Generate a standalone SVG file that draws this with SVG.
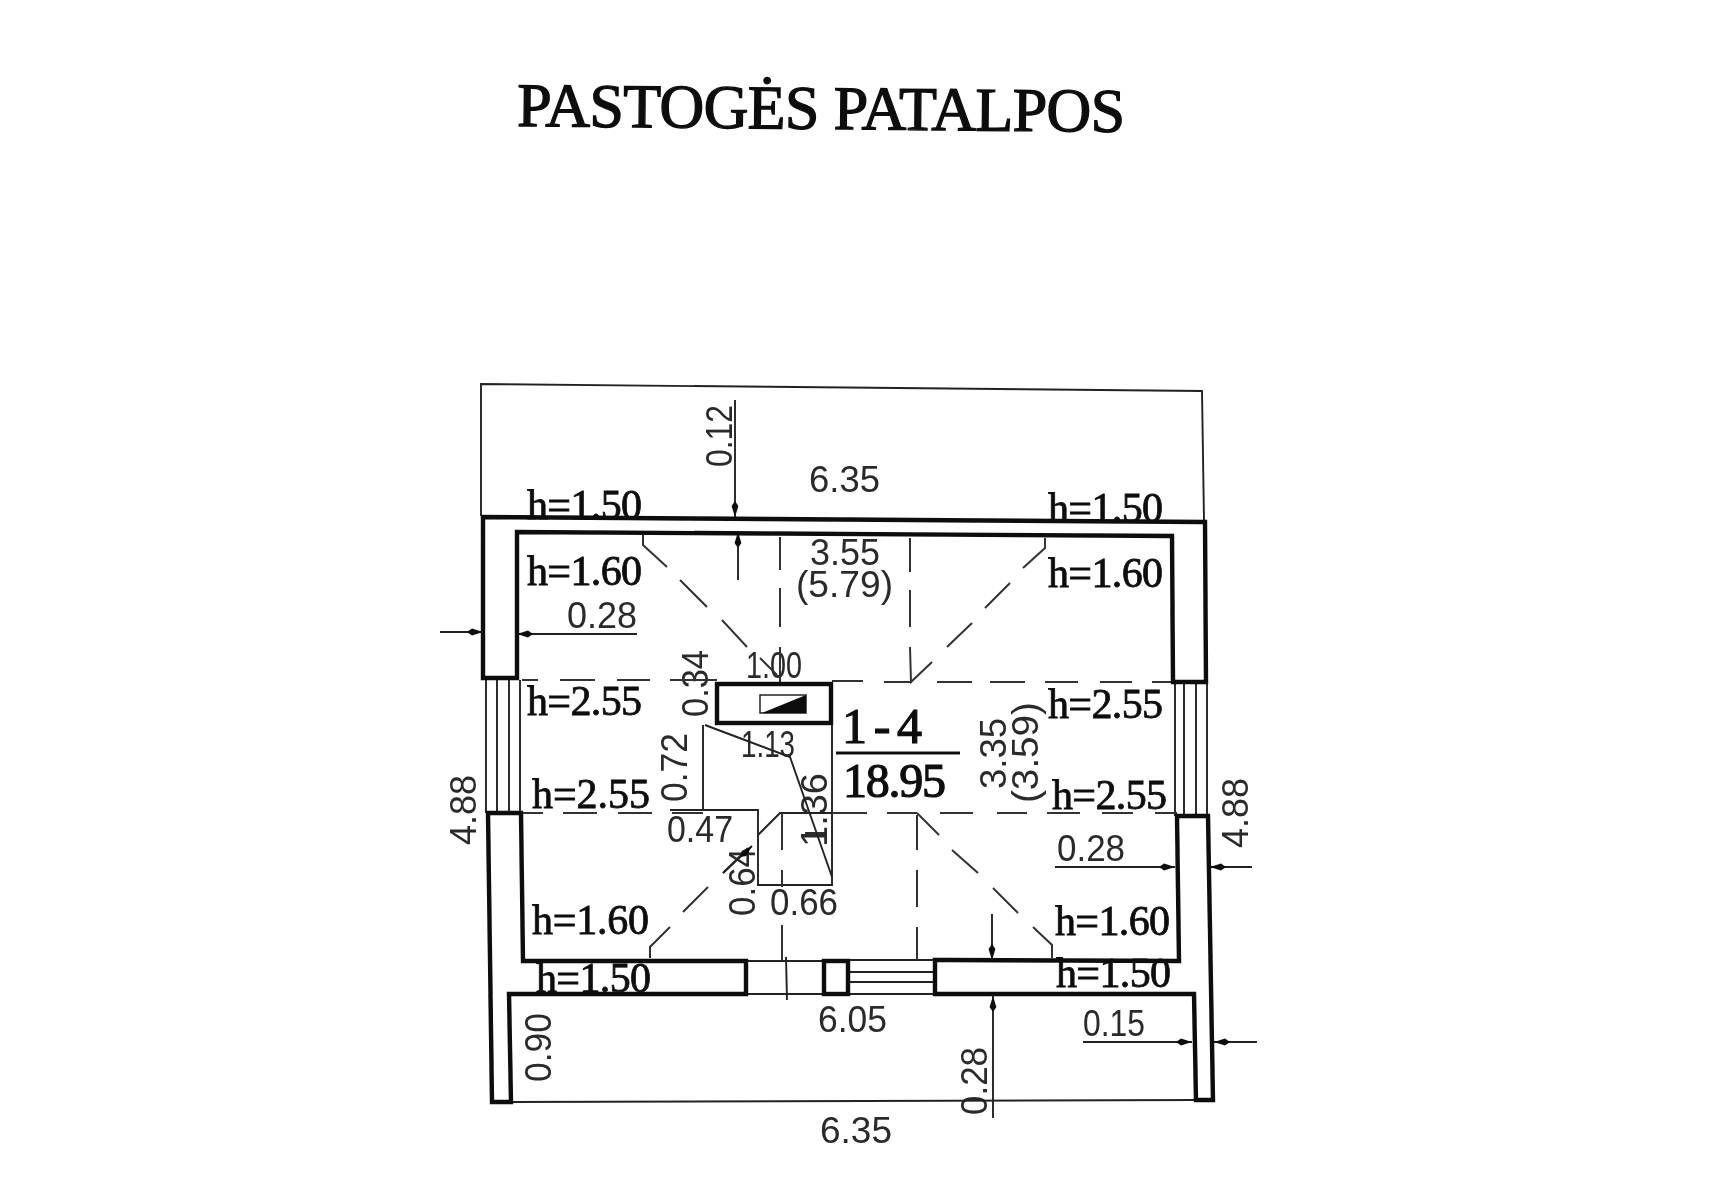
<svg xmlns="http://www.w3.org/2000/svg" width="1714" height="1200" viewBox="0 0 1714 1200">
<style>
.s{font-family:"Liberation Serif","Times New Roman",serif;fill:#0a0a0a;stroke:#0a0a0a;stroke-width:0.8}
.h{font-size:42px}
.d{font-family:"Liberation Sans",Arial,sans-serif;font-size:36px;fill:#2b2b2b}
.w{fill:none;stroke:#0a0a0a;stroke-width:4.4;stroke-linejoin:miter}
.t{fill:none;stroke:#222;stroke-width:1.9}
.a{fill:none;stroke:#222;stroke-width:1.9;marker-end:url(#ar)}
.c{fill:none;stroke:#333;stroke-width:2}
</style>
<defs>
<marker id="ar" markerUnits="userSpaceOnUse" markerWidth="20" markerHeight="10" refX="16" refY="5" orient="auto">
<path d="M0,5 L5,1.6 L16,5 L5,8.4 Z" fill="#111"/>
</marker>
<filter id="soft" x="0" y="0" width="100%" height="100%"><feGaussianBlur stdDeviation="0.55"/></filter>
</defs>
<rect width="1714" height="1200" fill="#ffffff"/>
<g filter="url(#soft)">
<text class="s" transform="translate(517,126) rotate(0.55)" font-size="62" textLength="608" lengthAdjust="spacing" style="stroke-width:1.3">PASTOGĖS PATALPOS</text>

<g id="room-labels">
<text class="s h" x="527" y="519" textLength="115">h=1.50</text>
<text class="s h" x="1048" y="522" textLength="115">h=1.50</text>
<text class="s h" x="527" y="585" textLength="115">h=1.60</text>
<text class="s h" x="1048" y="587" textLength="115">h=1.60</text>
<text class="s h" x="527" y="715" textLength="115">h=2.55</text>
<text class="s h" x="1048" y="718" textLength="115">h=2.55</text>
<text class="s h" x="532" y="808" textLength="118">h=2.55</text>
<text class="s h" x="1052" y="809" textLength="115">h=2.55</text>
<text class="s h" x="532" y="934" textLength="117">h=1.60</text>
<text class="s h" x="1055" y="935" textLength="115">h=1.60</text>
<text class="s h" x="536" y="992" textLength="115">h=1.50</text>
<text class="s h" x="1056" y="987" textLength="115">h=1.50</text>
<text class="s" x="842" y="743" font-size="50" textLength="80" style="stroke-width:1.2">1 - 4</text>
<text class="s" x="843" y="797" font-size="48" textLength="103" style="stroke-width:1.2">18.95</text>
</g>

<g id="dimensions" lengthAdjust="spacingAndGlyphs">
<text class="d" x="809" y="492" textLength="71" lengthAdjust="spacingAndGlyphs">6.35</text>
<text class="d" x="810" y="565" textLength="70" lengthAdjust="spacingAndGlyphs">3.55</text>
<text class="d" x="796" y="597" textLength="97" lengthAdjust="spacingAndGlyphs">(5.79)</text>
<text class="d" x="567" y="628" textLength="70" lengthAdjust="spacingAndGlyphs">0.28</text>
<text class="d" x="746" y="678" font-size="33" textLength="56" lengthAdjust="spacingAndGlyphs">1.00</text>
<text class="d" x="741" y="757" font-size="33" textLength="54" lengthAdjust="spacingAndGlyphs">1.13</text>
<text class="d" x="667" y="842" textLength="66" lengthAdjust="spacingAndGlyphs">0.47</text>
<text class="d" x="770" y="915" textLength="68" lengthAdjust="spacingAndGlyphs">0.66</text>
<text class="d" x="818" y="1032" textLength="69" lengthAdjust="spacingAndGlyphs">6.05</text>
<text class="d" x="820" y="1143" textLength="72" lengthAdjust="spacingAndGlyphs">6.35</text>
<text class="d" x="1057" y="861" textLength="68" lengthAdjust="spacingAndGlyphs">0.28</text>
<text class="d" x="1083" y="1036" font-size="34" textLength="62" lengthAdjust="spacingAndGlyphs">0.15</text>
<text class="d" transform="translate(732,467) rotate(-90)" textLength="62" lengthAdjust="spacingAndGlyphs">0.12</text>
<text class="d" transform="translate(708,717) rotate(-90)" textLength="67" lengthAdjust="spacingAndGlyphs">0.34</text>
<text class="d" transform="translate(687,802) rotate(-90)" textLength="69" lengthAdjust="spacingAndGlyphs">0.72</text>
<text class="d" transform="translate(827,847) rotate(-90)" textLength="74" lengthAdjust="spacingAndGlyphs">1.36</text>
<text class="d" transform="translate(755,916) rotate(-90)" textLength="68" lengthAdjust="spacingAndGlyphs">0.64</text>
<text class="d" transform="translate(551,1082) rotate(-90)" textLength="69" lengthAdjust="spacingAndGlyphs">0.90</text>
<text class="d" transform="translate(1248,848) rotate(-90)" textLength="70" lengthAdjust="spacingAndGlyphs">4.88</text>
<text class="d" transform="translate(476,845) rotate(-90)" textLength="70" lengthAdjust="spacingAndGlyphs">4.88</text>
<text class="d" transform="translate(987,1115) rotate(-90)" textLength="68" lengthAdjust="spacingAndGlyphs">0.28</text>
<text class="d" transform="translate(1006,789) rotate(-90)" textLength="71" lengthAdjust="spacingAndGlyphs">3.35</text>
<text class="d" transform="translate(1038,803) rotate(-90)" textLength="101" lengthAdjust="spacingAndGlyphs">(3.59)</text>
</g>

<g id="thin-lines">
<path class="t" d="M481,516 L481,384 L1202,391 L1204,521"/>
<path class="t" d="M486,680 V813 M497,680 V813 M509,680 V813 M520,680 V813"/>
<path class="t" d="M1175,682 V816 M1184,682 V816 M1196,682 V816 M1207,682 V816"/>
<path class="t" d="M511,1102 L1195,1100"/>
<path class="t" d="M746,961 H823 M746,994 H823"/>
<path class="t" d="M848,960 H935 M848,972 H935 M848,982 H935 M848,994 H935"/>
<path class="t" d="M703,725 V810 H758 V885 H832 V723"/>
<path class="t" d="M670,810 H703"/>
<path class="t" d="M705,725 L790,757 L832,877"/>
<path class="t" d="M758,835 L780,813 H832"/>
<path class="t" d="M805,833 H825"/>
<path class="t" d="M786,957 L787,1000"/>
<path d="M836,753 H960" fill="none" stroke="#111" stroke-width="2.8"/>
</g>

<g id="ridge-lines">
<path class="c" d="M643,535 V545 L667,567 M680,580 L707,607 M722,620 L747,647 M760,658 L777,675"/>
<path class="c" d="M780,537 V570 M780,588 V627 M780,647 V682"/>
<path class="c" d="M910,538 V572 M910,590 V627 M910,647 L911,682 L932,662 M947,647 L972,623 M985,608 L1010,583 M1023,568 L1045,548 V538"/>
<path class="c" d="M522,680 H538 M560,680 H595 M617,680 H650 M670,680 H717 M832,681 H863 M884,682 H912 M937,682 H972 M990,682 H1025 M1045,682 H1078 M1100,682 H1132 M1152,682 H1173"/>
<path class="c" d="M522,813 H543 M563,813 H597 M618,813 H652 M672,813 H703 M833,813 H867 M887,813 H917 M940,813 H973 M997,813 H1027 M1047,813 H1080 M1102,813 H1133 M1155,813 H1177"/>
<path class="c" d="M917,813 L939,835 M952,850 L978,873 M993,888 L1018,913 M1033,927 L1052,945 V958"/>
<path class="c" d="M917,815 V850 M917,870 V907 M917,927 V960"/>
<path class="c" d="M650,958 V947 L670,927 M683,912 L708,887 M723,873 L748,848"/>
<path class="c" d="M782,813 V850 M782,870 V887 M782,925 V960"/>
</g>

<g id="arrows">
<path class="a" d="M735,400 V517"/>
<path class="a" d="M738,580 V532"/>
<path class="a" d="M440,632 H483"/>
<path class="a" d="M637,634 H517"/>
<path class="a" d="M1055,867 H1175"/>
<path class="a" d="M1252,867 H1210"/>
<path class="a" d="M1083,1042 H1192"/>
<path class="a" d="M1257,1042 H1214"/>
<path class="a" d="M992,914 V960"/>
<path class="a" d="M993,1118 V996"/>
<path class="a" d="M723,873 L752,846"/>
</g>

<g id="walls">
<path class="w" d="M517,678 L517,532 L1172,536 L1173,682 L1206,682 L1205,522 L483,517 L483,678 Z"/>
<path class="w" d="M521,813 L488,813 L492,1102 L511,1102 L509,994 L746,994 L746,961 L523,961 Z"/>
<path class="w" d="M935,960 L1179,961 L1177,816 L1208,816 L1213,1100 L1196,1100 L1194,994 L935,994 Z"/>
<rect class="w" x="824" y="961" width="24" height="33"/>
</g>

<g id="chimney">
<rect class="w" x="717" y="684" width="114" height="39"/>
<rect x="760" y="695" width="46" height="18" fill="none" stroke="#222" stroke-width="1.5"/>
<path d="M806,695 V713 H762 Z" fill="#0a0a0a"/>
</g>
</g>
</svg>
